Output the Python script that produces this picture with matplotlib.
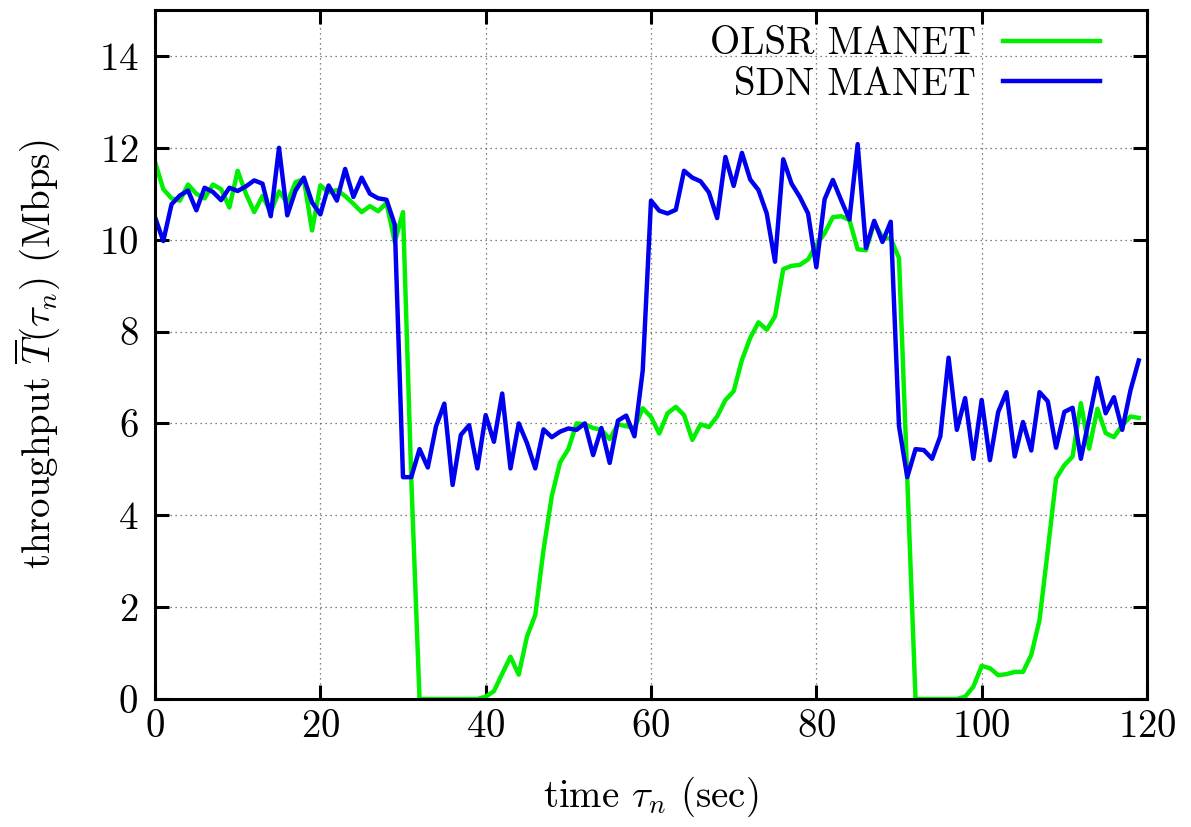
"""Throughput of OLSR vs SDN MANET over time (gnuplot-look replica)."""

from __future__ import annotations

import matplotlib

matplotlib.use("Agg")
import matplotlib.pyplot as plt
import numpy as np

# ───────────────────────── data ──────────────────────────

TIME_SEC = np.arange(120)  # one sample per second, 0–119

OLSR_MBPS = [
    11.7, 11.1, 10.9, 10.85, 11.2, 11.0, 10.9, 11.2, 11.1, 10.7,
    11.5, 11.0, 10.6, 10.95, 10.6, 11.05, 10.8, 11.25, 11.32, 10.2,
    11.18, 11.03, 11.08, 10.95, 10.78, 10.6, 10.73, 10.62, 10.8, 9.95,
    10.6, 4.8, 0, 0, 0, 0, 0, 0, 0, 0,
    0.05, 0.17, 0.55, 0.92, 0.53, 1.36, 1.83, 3.25, 4.42, 5.15,
    5.44, 6.0, 5.98, 5.9, 5.86, 5.66, 5.98, 5.94, 5.9, 6.33,
    6.14, 5.78, 6.22, 6.36, 6.18, 5.64, 5.98, 5.92, 6.15, 6.51,
    6.7, 7.38, 7.86, 8.2, 8.04, 8.33, 9.36, 9.43, 9.45, 9.57,
    9.88, 10.14, 10.49, 10.51, 10.43, 9.79, 9.77, 10.37, 10.05, 10.02,
    9.6, 4.8, 0, 0, 0, 0, 0, 0, 0.05, 0.27,
    0.72, 0.67, 0.52, 0.54, 0.59, 0.59, 0.96, 1.72, 3.24, 4.8,
    5.09, 5.28, 6.44, 5.45, 6.32, 5.79, 5.7, 5.96, 6.15, 6.12,
]

SDN_MBPS = [
    10.49, 9.97, 10.77, 10.96, 11.07, 10.64, 11.13, 11.04, 10.86, 11.13,
    11.06, 11.16, 11.29, 11.22, 10.51, 12.0, 10.53, 11.07, 11.35, 10.81,
    10.55, 11.18, 10.85, 11.54, 10.93, 11.35, 11.0, 10.9, 10.87, 10.33,
    4.83, 4.83, 5.44, 5.04, 5.94, 6.43, 4.66, 5.75, 5.96, 5.02,
    6.18, 5.6, 6.65, 5.02, 6.0, 5.57, 5.02, 5.87, 5.7, 5.82,
    5.89, 5.86, 6.0, 5.31, 5.9, 5.14, 6.06, 6.17, 5.72, 7.15,
    10.85, 10.63, 10.57, 10.65, 11.5, 11.35, 11.27, 11.03, 10.47, 11.8,
    11.17, 11.89, 11.31, 11.08, 10.57, 9.52, 11.75, 11.22, 10.93, 10.57,
    9.4, 10.88, 11.3, 10.86, 10.44, 12.08, 9.82, 10.41, 9.95, 10.39,
    5.94, 4.83, 5.44, 5.42, 5.23, 5.72, 7.43, 5.86, 6.55, 5.23,
    6.51, 5.2, 6.25, 6.68, 5.28, 6.03, 5.41, 6.68, 6.48, 5.47,
    6.25, 6.34, 5.23, 6.1, 6.99, 6.22, 6.57, 5.86, 6.72, 7.37,
]

X_TICKS = [0, 20, 40, 60, 80, 100, 120]
Y_TICKS = [0, 2, 4, 6, 8, 10, 12, 14]

GREEN = "#00f000"
BLUE = "#0000f0"
FONT_PT = 28


# ───────────────────────── plot ──────────────────────────


def make_figure(out_path: str = "out.png") -> None:
    plt.rcParams.update(
        {
            "font.family": "serif",
            "font.serif": ["cmr10"],
            "mathtext.fontset": "cm",
            "axes.formatter.use_mathtext": True,
            "font.size": FONT_PT,
        }
    )

    fig = plt.figure(figsize=(11.91, 8.27), dpi=100)
    ax = fig.add_axes([155 / 1191, 128 / 827, 992 / 1191, 689 / 827])

    ax.plot(TIME_SEC, OLSR_MBPS, color=GREEN, lw=3.2, label="OLSR MANET")
    ax.plot(TIME_SEC, SDN_MBPS, color=BLUE, lw=3.2, label="SDN MANET")

    ax.set_xlim(0, 120)
    ax.set_ylim(0, 15)
    ax.set_xticks(X_TICKS)
    ax.set_yticks(Y_TICKS)

    ax.grid(True, color="0.35", linestyle=(0, (1, 3)), linewidth=0.9)
    ax.tick_params(
        direction="in", length=10, width=2.2,
        top=True, right=True, labelsize=FONT_PT,
    )
    ax.tick_params(axis="y", pad=12)
    ax.tick_params(axis="x", pad=7)
    for spine in ax.spines.values():
        spine.set_linewidth(2.2)

    ax.set_xlabel(r"time $\tau_n$ (sec)", labelpad=22)
    ax.set_ylabel(r"throughput $\overline{T}(\tau_n)$ (Mbps)", labelpad=26)

    ax.legend(
        loc="upper right",
        bbox_to_anchor=(0.953, 0.976),
        frameon=False,
        markerfirst=False,
        handlelength=2.5,
        handletextpad=0.7,
        labelspacing=0.12,
        borderaxespad=0,
        borderpad=0,
        fontsize=FONT_PT,
    )

    fig.savefig(out_path, dpi=100)


if __name__ == "__main__":
    make_figure()
